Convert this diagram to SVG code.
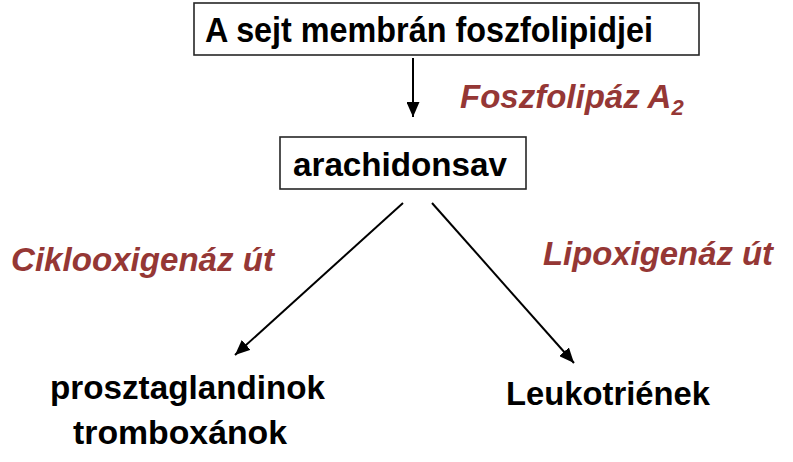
<svg xmlns="http://www.w3.org/2000/svg" width="793" height="462" viewBox="0 0 793 462">
<style>
.box{fill:#fff;stroke:#262626;stroke-width:1.6}
.t{font-family:"Liberation Sans",Arial,sans-serif;font-weight:bold;fill:#000}
.e{font-family:"Liberation Sans",Arial,sans-serif;font-weight:bold;font-style:italic;fill:#953735}
.c{stroke:#000;stroke-width:2;fill:none}
</style>
<defs>
<marker id="ah" viewBox="0 0 15 13" refX="15" refY="6.5" markerWidth="15" markerHeight="13" markerUnits="userSpaceOnUse" orient="auto">
<path d="M0,0 L15,6.5 L0,13 z" fill="#000"/>
</marker>
</defs>
<rect width="793" height="462" fill="#fff"/>
<g id="n-membran">
<rect class="box" x="194" y="3" width="505" height="52"/>
<text class="t" x="205" y="42" font-size="35" textLength="448" lengthAdjust="spacingAndGlyphs">A sejt membrán foszfolipidjei</text>
</g>
<g id="n-enzim">
<text class="e" x="460" y="108" font-size="33">Foszfolipáz A<tspan font-size="22" dx="0" dy="7">2</tspan></text>
</g>
<g id="n-arachidonsav">
<rect class="box" x="280" y="137" width="246" height="52"/>
<text class="t" x="293" y="176" font-size="34" textLength="214" lengthAdjust="spacingAndGlyphs">arachidonsav</text>
</g>
<g id="n-ciklo">
<text class="e" x="11" y="271" font-size="34" textLength="263" lengthAdjust="spacingAndGlyphs">Ciklooxigenáz út</text>
</g>
<g id="n-lipox">
<text class="e" x="543" y="265" font-size="34" textLength="230" lengthAdjust="spacingAndGlyphs">Lipoxigenáz út</text>
</g>
<g id="n-prosztaglandinok">
<text class="t" x="50" y="399" font-size="34" textLength="275" lengthAdjust="spacingAndGlyphs">prosztaglandinok</text>
<text class="t" x="73" y="444" font-size="34" textLength="214" lengthAdjust="spacingAndGlyphs">tromboxánok</text>
</g>
<g id="n-leukotrienek">
<text class="t" x="506" y="405" font-size="34" textLength="204" lengthAdjust="spacingAndGlyphs">Leukotriének</text>
</g>
<g id="connectors">
<line class="c" x1="413" y1="58" x2="413" y2="117" marker-end="url(#ah)"/>
<line class="c" x1="403" y1="203" x2="235" y2="355" marker-end="url(#ah)"/>
<line class="c" x1="432" y1="203" x2="574" y2="363" marker-end="url(#ah)"/>
</g>
</svg>
